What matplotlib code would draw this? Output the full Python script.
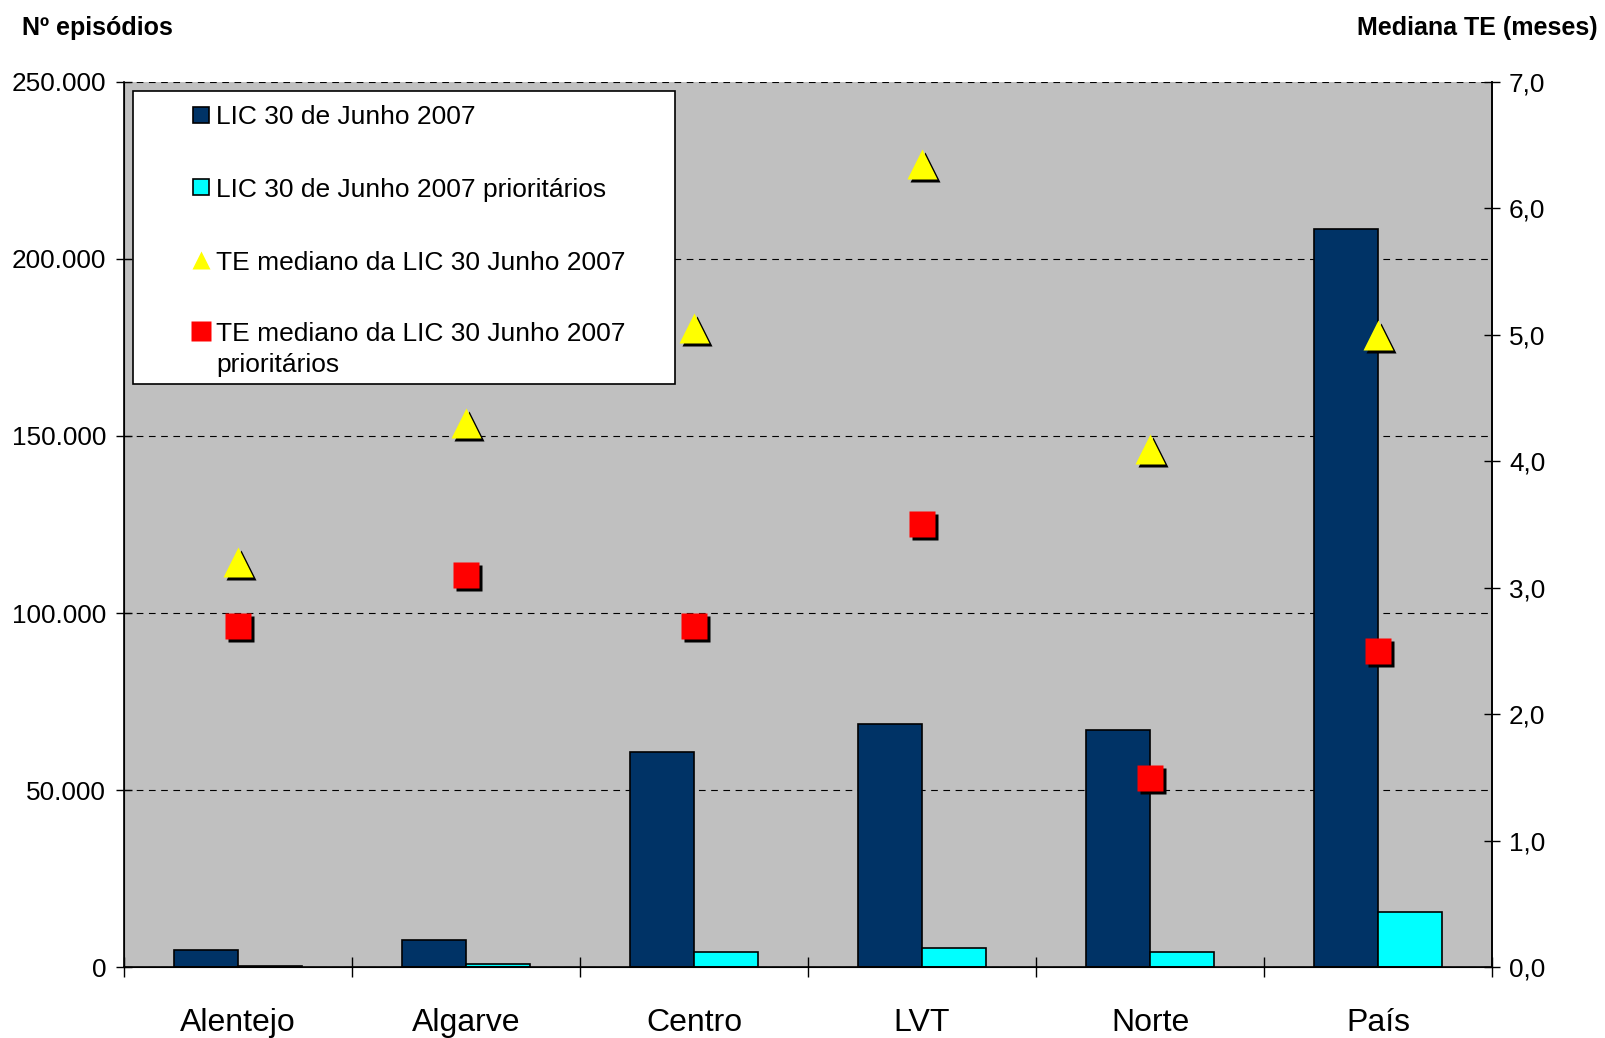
import matplotlib.pyplot as plt
import matplotlib.transforms as mtransforms
from matplotlib.patches import Rectangle
from matplotlib.lines import Line2D
from matplotlib.ticker import FuncFormatter, FixedLocator
import numpy as np

plt.rcParams['font.family'] = ['Liberation Sans', 'DejaVu Sans']

# data
regions = ["Alentejo", "Algarve", "Centro", "LVT", "Norte", "País"]
lic = [4900, 7600, 60700, 68800, 67000, 208400]
lic_prior = [400, 900, 4400, 5400, 4300, 15500]
te_median = [3.2, 4.3, 5.05, 6.35, 4.1, 5.0]
te_median_prior = [2.7, 3.1, 2.7, 3.5, 1.5, 2.5]

labels = ["LIC 30 de Junho 2007",
          "LIC 30 de Junho 2007 prioritários",
          "TE mediano da LIC 30 Junho 2007",
          "TE mediano da LIC 30 Junho 2007\nprioritários"]

navy = "#003366"
cyan = "#00FFFF"
W, H = 1605, 1038

fig = plt.figure(figsize=(W / 100, H / 100), dpi=100)
ax = fig.add_axes([124 / W, 1 - 967.4 / H, (1492 - 124) / W, (967.4 - 81.5) / H])
ax.set_facecolor("#C0C0C0")

x = np.arange(len(regions))
bw = 0.28
ax.set_axisbelow(True)
ax.bar(x - bw / 2, lic, bw, color=navy, edgecolor="black", linewidth=1.2, zorder=2)
ax.bar(x + bw / 2, lic_prior, bw, color=cyan, edgecolor="black", linewidth=1.2, zorder=2)

ax.set_xlim(-0.5, len(regions) - 0.5)
ax.set_ylim(0, 250000)
ax.set_yticks(np.arange(0, 250001, 50000))
ax.yaxis.set_major_formatter(FuncFormatter(lambda v, p: f"{int(v):,}".replace(",", ".")))
ax.yaxis.grid(True, color="black", linestyle=(0, (6, 5)), linewidth=0.8)
ax.tick_params(axis="y", direction="inout", length=11.5, width=1, labelsize=18.8, pad=7)

ax.set_xticks(x)
ax.set_xticklabels(regions)
ax.xaxis.set_minor_locator(FixedLocator(np.arange(-0.5, len(regions), 1.0)))
ax.tick_params(axis="x", which="major", length=0, labelsize=23, pad=29.5)
ax.tick_params(axis="x", which="minor", direction="inout", length=15, width=1)

ax.spines["top"].set_visible(False)
for s in ["left", "bottom", "right"]:
    ax.spines[s].set_linewidth(1.2)

ax2 = ax.twinx()
ax2.set_ylim(0, 7)
ax2.set_yticks(np.arange(0, 7.01, 1.0))
ax2.yaxis.set_major_formatter(FuncFormatter(lambda v, p: f"{v:.1f}".replace(".", ",")))
ax2.tick_params(axis="y", direction="inout", length=11.5, width=1, labelsize=18.8, pad=6.5)
ax2.spines["top"].set_visible(False)
ax2.spines["right"].set_linewidth(1.2)

shadow = mtransforms.offset_copy(ax2.transData, fig=fig, x=3, y=-3, units="dots")
ax2.plot(x, te_median, "^", ms=21.5, color="black", mec="none", transform=shadow, zorder=3)
ax2.plot(x, te_median, "^", ms=21.5, color="yellow", mec="none", zorder=4)
ax2.plot(x, te_median_prior, "s", ms=19.4, color="black", mec="none", transform=shadow, zorder=3)
ax2.plot(x, te_median_prior, "s", ms=19.4, color="red", mec="none", zorder=4)

# legend box
fig.add_artist(Rectangle((133 / W, 1 - 384 / H), (675 - 133) / W, (384 - 91) / H,
                         transform=fig.transFigure, facecolor="white",
                         edgecolor="black", linewidth=1.2, zorder=5))
rows_y = [114.6, 187.3, 260, 330.6]
handles = [dict(marker="s", ms=12, mfc=navy, mec="black", mew=1.2),
           dict(marker="s", ms=12, mfc=cyan, mec="black", mew=1.2),
           dict(marker="^", ms=13, mfc="yellow", mec="none"),
           dict(marker="s", ms=15, mfc="red", mec="none")]
for lab, yy, h in zip(labels, rows_y, handles):
    fy = 1 - yy / H
    fig.add_artist(Line2D([200.8 / W], [fy], transform=fig.transFigure, linestyle="none",
                          zorder=6, **h))
    base = yy + 9.5 + 31.8 * lab.count("\n")
    fig.text(216 / W, 1 - base / H, lab, fontsize=19, ha="left", va="baseline",
             linespacing=1.385, zorder=6)

fig.text(22 / W, 1 - 27.5 / H, "Nº episódios", fontsize=18, fontweight="bold",
         ha="left", va="center")
fig.text(1598 / W, 1 - 27.5 / H, "Mediana TE (meses)", fontsize=18, fontweight="bold",
         ha="right", va="center")

fig.savefig("out.png", dpi=100)
